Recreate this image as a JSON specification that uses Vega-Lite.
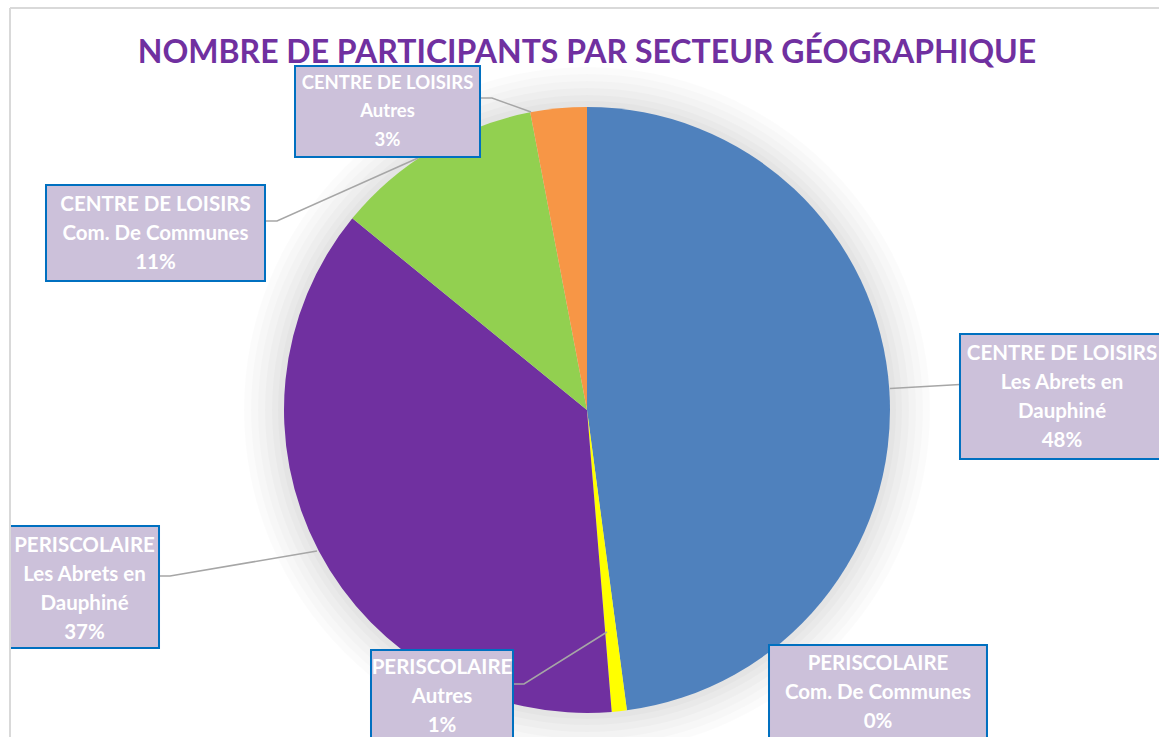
{
  "$schema": "https://vega.github.io/schema/vega-lite/v6.json",
  "width": 1149,
  "height": 729,
  "autosize": {"type": "none"},
  "padding": {"left": 10, "top": 8, "right": 0, "bottom": 0},
  "background": "white",
  "config": {"view": {"stroke": null}, "font": "Lato"},
  "title": {
    "text": "NOMBRE DE PARTICIPANTS PAR SECTEUR GÉOGRAPHIQUE",
    "font": "Lato",
    "fontSize": 32,
    "fontWeight": "bold",
    "color": "#7030a0",
    "anchor": "middle",
    "baseline": "alphabetic",
    "offset": -88,
    "dx": 2.5
  },
  "datasets": {
    "parts": [
      {"secteur": "CENTRE DE LOISIRS Les Abrets en Dauphiné", "valeur": 47.9, "ordre": 1},
      {"secteur": "PERISCOLAIRE Com. De Communes", "valeur": 0, "ordre": 2},
      {"secteur": "PERISCOLAIRE Autres", "valeur": 0.8, "ordre": 3},
      {"secteur": "PERISCOLAIRE Les Abrets en Dauphiné", "valeur": 37.2, "ordre": 4},
      {"secteur": "CENTRE DE LOISIRS Com. De Communes", "valeur": 11.1, "ordre": 5},
      {"secteur": "CENTRE DE LOISIRS Autres", "valeur": 3.0, "ordre": 6}
    ],
    "labels": [
      {"secteur": "CENTRE DE LOISIRS Autres", "lab": "CENTRE DE LOISIRS\nAutres\n3%", "u1": -0.9637, "u2": -0.3531, "v1": 1.1353, "v2": 0.835, "tu": -0.6584, "tv": 1.0792},
      {"secteur": "CENTRE DE LOISIRS Com. De Communes", "lab": "CENTRE DE LOISIRS\nCom. De Communes\n11%", "u1": -1.7855, "u2": -1.0627, "v1": 0.7426, "v2": 0.4257, "tu": -1.4241, "tv": 0.6766},
      {"secteur": "CENTRE DE LOISIRS Les Abrets en Dauphiné", "lab": "CENTRE DE LOISIRS\nLes Abrets en\nDauphiné\n48%", "u1": 1.231, "u2": 1.9043, "v1": 0.2508, "v2": -0.1617, "tu": 1.5677, "tv": 0.1848},
      {"secteur": "PERISCOLAIRE Les Abrets en Dauphiné", "lab": "PERISCOLAIRE\nLes Abrets en\nDauphiné\n37%", "u1": -1.9043, "u2": -1.4125, "v1": -0.3828, "v2": -0.7855, "tu": -1.6584, "tv": -0.4488},
      {"secteur": "PERISCOLAIRE Autres", "lab": "PERISCOLAIRE\nAutres\n1%", "u1": -0.7129, "u2": -0.2442, "v1": -0.7921, "v2": -1.1056, "tu": -0.4785, "tv": -0.8515},
      {"secteur": "PERISCOLAIRE Com. De Communes", "lab": "PERISCOLAIRE\nCom. De Communes\n0%", "u1": 0.6007, "u2": 1.3201, "v1": -0.7756, "v2": -1.1056, "tu": 0.9604, "tv": -0.8383}
    ],
    "leaders": [
      {"ligne": "orange", "pt": 1, "u": -0.3531, "v": 1.0297},
      {"ligne": "orange", "pt": 2, "u": -0.3135, "v": 1.0297},
      {"ligne": "orange", "pt": 3, "u": -0.1848, "v": 0.9835},
      {"ligne": "green", "pt": 1, "u": -1.0627, "v": 0.6238},
      {"ligne": "green", "pt": 2, "u": -1.0231, "v": 0.6238},
      {"ligne": "green", "pt": 3, "u": -0.5578, "v": 0.8317},
      {"ligne": "blue", "pt": 1, "u": 1.0, "v": 0.071},
      {"ligne": "blue", "pt": 2, "u": 1.231, "v": 0.0842},
      {"ligne": "purple", "pt": 1, "u": -1.4125, "v": -0.5479},
      {"ligne": "purple", "pt": 2, "u": -1.3762, "v": -0.5479},
      {"ligne": "purple", "pt": 3, "u": -0.8911, "v": -0.4653},
      {"ligne": "yellow", "pt": 1, "u": -0.2475, "v": -0.9043},
      {"ligne": "yellow", "pt": 2, "u": -0.2079, "v": -0.9043},
      {"ligne": "yellow", "pt": 3, "u": 0.066, "v": -0.7327}
    ],
    "one": [{"k": 1}]
  },
  "layer": [
    {
      "data": {"name": "one"},
      "mark": {"type": "arc", "radius": 343, "theta": 0, "theta2": 6.2832, "fill": "#000000", "opacity": 0.016},
      "encoding": {
        "x": {"datum": 0, "type": "quantitative", "scale": {"domain": [-1.9043, 1.8878], "nice": false, "zero": false}, "axis": null},
        "y": {"datum": 0, "type": "quantitative", "scale": {"domain": [-1.0792, 1.3267], "nice": false, "zero": false}, "axis": null}
      }
    },
    {
      "data": {"name": "one"},
      "mark": {"type": "arc", "radius": 336, "theta": 0, "theta2": 6.2832, "fill": "#000000", "opacity": 0.016},
      "encoding": {"x": {"datum": 0, "type": "quantitative"}, "y": {"datum": 0, "type": "quantitative"}}
    },
    {
      "data": {"name": "one"},
      "mark": {"type": "arc", "radius": 329, "theta": 0, "theta2": 6.2832, "fill": "#000000", "opacity": 0.016},
      "encoding": {"x": {"datum": 0, "type": "quantitative"}, "y": {"datum": 0, "type": "quantitative"}}
    },
    {
      "data": {"name": "one"},
      "mark": {"type": "arc", "radius": 322, "theta": 0, "theta2": 6.2832, "fill": "#000000", "opacity": 0.018},
      "encoding": {"x": {"datum": 0, "type": "quantitative"}, "y": {"datum": 0, "type": "quantitative"}}
    },
    {
      "data": {"name": "one"},
      "mark": {"type": "arc", "radius": 315, "theta": 0, "theta2": 6.2832, "fill": "#000000", "opacity": 0.018},
      "encoding": {"x": {"datum": 0, "type": "quantitative"}, "y": {"datum": 0, "type": "quantitative"}}
    },
    {
      "data": {"name": "one"},
      "mark": {"type": "arc", "radius": 309, "theta": 0, "theta2": 6.2832, "fill": "#000000", "opacity": 0.02},
      "encoding": {"x": {"datum": 0, "type": "quantitative"}, "y": {"datum": 0, "type": "quantitative"}}
    },
    {
      "data": {"name": "parts"},
      "mark": {"type": "arc", "radius": 303},
      "encoding": {
        "x": {"datum": 0, "type": "quantitative"},
        "y": {"datum": 0, "type": "quantitative"},
        "theta": {"field": "valeur", "type": "quantitative", "stack": true},
        "order": {"field": "ordre", "type": "quantitative"},
        "color": {
          "field": "secteur",
          "type": "nominal",
          "scale": {
            "domain": ["CENTRE DE LOISIRS Les Abrets en Dauphiné", "PERISCOLAIRE Com. De Communes", "PERISCOLAIRE Autres", "PERISCOLAIRE Les Abrets en Dauphiné", "CENTRE DE LOISIRS Com. De Communes", "CENTRE DE LOISIRS Autres"],
            "range": ["#4f81bd", "#c0504d", "#ffff00", "#7030a0", "#92d050", "#f79646"]
          },
          "legend": null
        }
      }
    },
    {
      "data": {"name": "leaders"},
      "mark": {"type": "line", "color": "#a6a6a6", "strokeWidth": 1.5},
      "encoding": {
        "x": {"field": "u", "type": "quantitative"},
        "y": {"field": "v", "type": "quantitative"},
        "detail": {"field": "ligne", "type": "nominal"},
        "order": {"field": "pt", "type": "quantitative"}
      }
    },
    {
      "data": {"name": "labels"},
      "mark": {"type": "rect", "fill": "#ccc1da", "stroke": "#0070c0", "strokeWidth": 2},
      "encoding": {
        "x": {"field": "u1", "type": "quantitative"},
        "x2": {"field": "u2"},
        "y": {"field": "v1", "type": "quantitative"},
        "y2": {"field": "v2"}
      }
    },
    {
      "data": {"name": "labels"},
      "transform": [{"filter": "datum.secteur !== 'CENTRE DE LOISIRS Autres'"}],
      "mark": {"type": "text", "font": "Lato", "fontSize": 20.5, "fontWeight": "bold", "color": "#ffffff", "align": "center", "baseline": "middle", "lineBreak": "\n", "lineHeight": 29},
      "encoding": {
        "x": {"field": "tu", "type": "quantitative"},
        "y": {"field": "tv", "type": "quantitative"},
        "text": {"field": "lab", "type": "nominal"}
      }
    },
    {
      "data": {"name": "labels"},
      "transform": [{"filter": "datum.secteur === 'CENTRE DE LOISIRS Autres'"}],
      "mark": {"type": "text", "font": "Lato", "fontSize": 18.5, "fontWeight": "bold", "color": "#ffffff", "align": "center", "baseline": "middle", "lineBreak": "\n", "lineHeight": 28.5},
      "encoding": {
        "x": {"field": "tu", "type": "quantitative"},
        "y": {"field": "tv", "type": "quantitative"},
        "text": {"field": "lab", "type": "nominal"}
      }
    },
    {
      "data": {"name": "one"},
      "mark": {"type": "rule", "color": "#d9d9d9", "strokeWidth": 2},
      "encoding": {"y": {"datum": 1.3267, "type": "quantitative"}}
    },
    {
      "data": {"name": "one"},
      "mark": {"type": "rule", "color": "#d9d9d9", "strokeWidth": 2},
      "encoding": {"x": {"datum": -1.9043, "type": "quantitative"}}
    }
  ]
}
